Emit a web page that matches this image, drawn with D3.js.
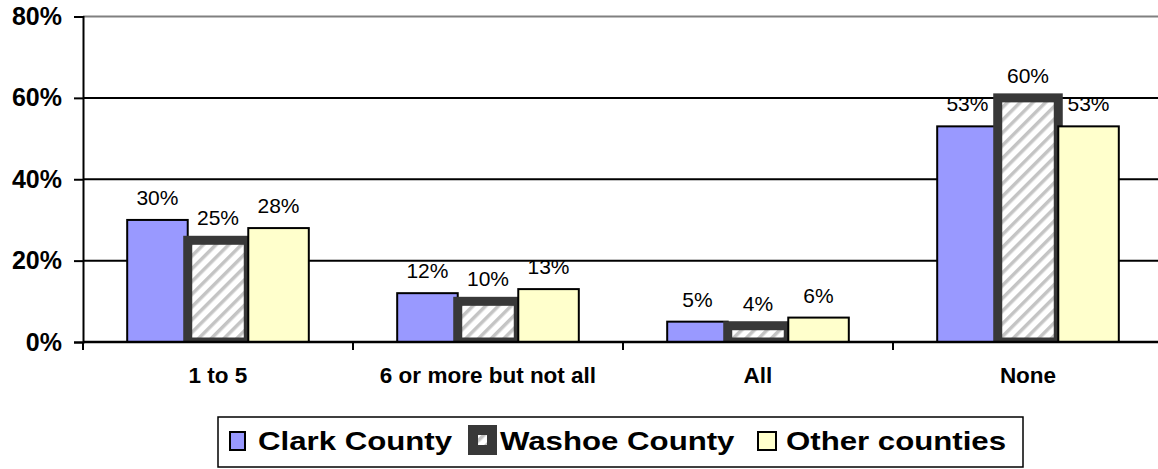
<!DOCTYPE html>
<html><head><meta charset="utf-8">
<script src="https://cdn.jsdelivr.net/npm/d3@7"></script>
<style>
html,body{margin:0;padding:0;background:#fff;}
svg{display:block;font-family:"Liberation Sans",Arial,sans-serif;}
</style></head>
<body><svg id="c" width="1158" height="469"></svg>
<script>
const categories = ["1 to 5", "6 or more but not all", "All", "None"];
const seriesNames = ["Clark County", "Washoe County", "Other counties"];
const clark = [30, 12, 5, 53];
const washoe = [25, 10, 4, 60];
const other = [28, 13, 6, 53];
const yTicks = [0, 20, 40, 60, 80];

const seriesValues = [clark, washoe, other];
const svg = d3.select("#c");

const x0 = d3.scaleBand().domain(categories).range([83, 1163]).padding(0);
const x1 = d3.scaleBand().domain(seriesNames).range([0, x0.bandwidth()]).paddingInner(0).paddingOuter(0.73);
const y = d3.scaleLinear().domain([0, 80]).range([342, 16.5]);

const defs = svg.append("defs");
const pat = defs.append("pattern").attr("id","hatch").attr("patternUnits","userSpaceOnUse")
  .attr("width",9).attr("height",9).attr("patternTransform","rotate(45)");
pat.append("rect").attr("width",9).attr("height",9).attr("fill","#fff");
pat.append("rect").attr("x",0).attr("width",3.5).attr("height",9).attr("fill","#c4c4c4");
defs.append("clipPath").attr("id","plotclip").append("rect")
  .attr("x",0).attr("y",0).attr("width",1158).attr("height",y(0));

const styles = [
  {fill:"#9999FF", stroke:"#000", sw:2},
  {fill:"url(#hatch)", stroke:"#383838", sw:9},
  {fill:"#FFFFCC", stroke:"#000", sw:2}
];

// gridlines
svg.append("g").selectAll("line").data(yTicks.filter(t => t > 0)).join("line")
  .attr("x1", 83).attr("x2", 1158)
  .attr("y1", d => y(d)).attr("y2", d => y(d))
  .attr("stroke", d => d === 80 ? "#808080" : "#000")
  .attr("stroke-width", 2);

// y axis
const yAxis = d3.axisLeft(y).tickValues(yTicks).tickFormat(d => d + "%").tickSize(9).tickPadding(12);
const ga = svg.append("g").attr("transform","translate(83,0)").call(yAxis);
ga.select(".domain").attr("stroke","#000").attr("stroke-width",2);
ga.selectAll(".tick line").attr("stroke","#000").attr("stroke-width",2);
ga.selectAll(".tick text").attr("font-size",25).attr("font-weight","bold").attr("fill","#000")
  .attr("font-family","Liberation Sans, Arial, sans-serif");

// bars
const barsG = svg.append("g").attr("clip-path","url(#plotclip)");
seriesNames.forEach((s, si) => {
  const st = styles[si];
  barsG.append("g").selectAll("rect").data(categories).join("rect")
    .attr("x", c => x0(c) + x1(s))
    .attr("y", (c, i) => y(seriesValues[si][i]))
    .attr("width", x1.bandwidth())
    .attr("height", (c, i) => y(0) - y(seriesValues[si][i]) + (si === 1 ? 0 : 0))
    .attr("fill", st.fill).attr("stroke", st.stroke).attr("stroke-width", st.sw);
});

// x axis
svg.append("line").attr("x1",83).attr("x2",1158).attr("y1",y(0)).attr("y2",y(0))
  .attr("stroke","#000").attr("stroke-width",2.5);
const bounds = categories.map(c => x0(c)).concat([x0.range()[1]]);
svg.append("g").selectAll("line").data(bounds.filter(b => b <= 1158)).join("line")
  .attr("x1", d => d).attr("x2", d => d).attr("y1", y(0)).attr("y2", y(0) + 8)
  .attr("stroke","#000").attr("stroke-width",2);
svg.append("g").selectAll("text").data(categories).join("text")
  .attr("x", c => x0(c) + x0.bandwidth()/2).attr("y", 383)
  .attr("text-anchor","middle").attr("font-size",22.5).attr("font-weight","bold").text(c => c);

// value labels
seriesNames.forEach((s, si) => {
  svg.append("g").selectAll("text").data(categories).join("text")
    .attr("x", c => x0(c) + x1(s) + x1.bandwidth()/2)
    .attr("y", (c, i) => y(seriesValues[si][i]) - 15)
    .attr("text-anchor","middle").attr("font-size",21).attr("fill","#000")
    .text((c, i) => seriesValues[si][i] + "%");
});

// legend
const lg = svg.append("g");
lg.append("rect").attr("x",218).attr("y",417).attr("width",805).attr("height",50)
  .attr("fill","#fff").attr("stroke","#000").attr("stroke-width",1.5);
const legendX = [230, 473, 758];
seriesNames.forEach((s, si) => {
  const st = styles[si];
  const lx = legendX[si];
  if (si === 1) {
    lg.append("rect").attr("x", lx).attr("y", 430).attr("width", 19).attr("height", 20)
      .attr("fill", st.fill).attr("stroke", st.stroke).attr("stroke-width", 10);
  } else {
    lg.append("rect").attr("x", lx).attr("y", 432).attr("width", si === 0 ? 15 : 18).attr("height", 18)
      .attr("fill", st.fill).attr("stroke", st.stroke).attr("stroke-width", 2);
  }
  const tx = lx + (si === 1 ? 27 : 28);
  lg.append("text").attr("transform", `translate(${tx},450) scale(1.2,1)`)
    .attr("font-size",26).attr("font-weight","bold").text(s);
});
</script></body></html>
